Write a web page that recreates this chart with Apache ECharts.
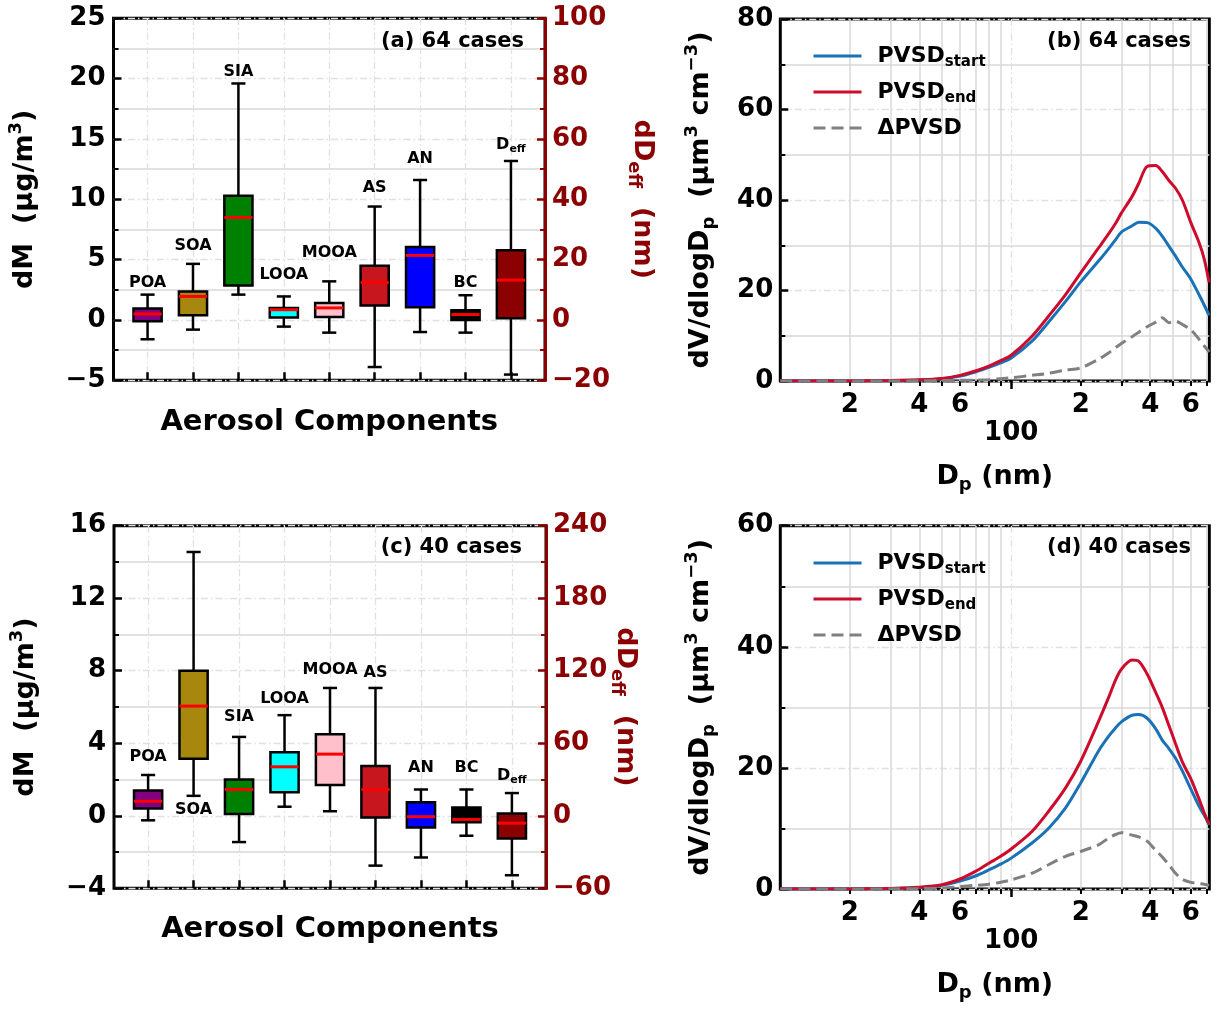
<!DOCTYPE html>
<html>
<head>
<meta charset="utf-8">
<script src="https://cdn.jsdelivr.net/npm/echarts@6.0.0/dist/echarts.min.js"></script>
<style>
  html, body { margin: 0; padding: 0; background: #fff; }
  #chart { width: 1220px; height: 1010px; }
</style>
</head>
<body>
<div id="chart"></div>
<script>
// ---- data ----
var components = ['POA', 'SOA', 'SIA', 'LOOA', 'MOOA', 'AS', 'AN', 'BC'];
var boxColors = ['#800080', '#A8870F', '#008000', '#00FFFF', '#FFC0CB', '#C8161E', '#0000FF', '#000000'];

// [min, q1, median, q3, max]  dM (ug/m3)
var statsA = [
  [-1.6, -0.1, 0.5, 0.95, 2.1],
  [-0.8, 0.4, 1.95, 2.35, 4.65],
  [2.1, 2.85, 8.5, 10.3, 19.6],
  [-0.55, 0.2, 0.85, 1.0, 1.95],
  [-1.05, 0.25, 1.0, 1.4, 3.2],
  [-3.9, 1.2, 3.1, 4.5, 9.4],
  [-1.0, 1.05, 5.35, 6.05, 11.6],
  [-1.05, 0.0, 0.45, 0.8, 2.05]
];
var deffA = [-18.1, 0.6, 13.2, 23.1, 52.7];      // dDeff (nm)
var labelYA = [3.1, 6.15, 20.6, 3.75, 5.55, 10.95, 13.35, 3.1];
var deffLabelA = 58;

var statsC = [
  [-0.25, 0.4, 0.8, 1.4, 2.25],
  [1.1, 3.15, 6.05, 8.0, 14.55],
  [-1.45, 0.1, 1.45, 2.0, 4.35],
  [0.5, 1.3, 2.7, 3.5, 5.55],
  [0.25, 1.7, 3.4, 4.5, 7.05],
  [-2.75, -0.1, 1.45, 2.75, 7.05],
  [-2.3, -0.65, -0.05, 0.75, 1.45],
  [-1.1, -0.35, -0.2, 0.45, 1.45]
];
var deffC = [-49.2, -18.8, -6.1, 1.9, 18.8];
var labelYC = [3.25, 0.3, 5.45, 6.45, 8.05, 7.9, 2.65, 2.65];
var deffLabelC = 33;

// particle diameter (nm)
var dp = [10, 15, 20, 30, 40, 50, 60, 70, 80, 90, 100, 123, 145, 172, 200, 239, 264, 283, 300,
          334, 357, 388, 422, 451, 482, 515, 551, 600, 652, 685, 720];
var startB = [0, 0, 0.02, 0.08, 0.2, 0.45, 1.1, 2.0, 3.0, 4.0, 5.1, 8.8, 13.0, 17.6, 21.9, 26.5, 29.2, 31.2, 32.9,
              34.3, 35.1, 35.0, 33.8, 32.0, 29.8, 27.6, 25.2, 22.5, 19.0, 16.8, 14.5];
var endB = [0, 0, 0.02, 0.1, 0.25, 0.55, 1.25, 2.2, 3.3, 4.5, 5.7, 9.9, 14.3, 19.1, 23.9, 29.4, 32.5, 34.8, 37.1,
            40.8, 43.7, 47.4, 47.6, 46.3, 44.3, 42.6, 40.0, 35.0, 30.5, 27.0, 21.8];
var deltaB = [0, 0, 0, 0, 0.05, 0.1, 0.15, 0.2, 0.3, 0.5, 0.7, 1.25, 1.7, 2.4, 2.9, 4.8, 6.2, 7.35, 8.3,
              9.8, 10.8, 12.0, 13.0, 14.0, 12.9, 13.2, 12.5, 11.3, 9.2, 7.8, 6.4];
var startD = [0, 0, 0.02, 0.08, 0.25, 0.6, 1.3, 2.15, 3.15, 4.1, 5.1, 7.6, 10.0, 13.4, 17.5, 22.8, 25.2, 26.6, 27.6,
              28.7, 28.8, 28.2, 26.5, 24.6, 23.2, 21.6, 19.5, 16.5, 13.6, 12.2, 10.6];
var endD = [0, 0, 0.02, 0.1, 0.3, 0.7, 1.65, 2.9, 4.25, 5.4, 6.6, 9.5, 12.8, 16.7, 21.1, 27.7, 31.6, 34.5, 36.3,
            37.8, 37.6, 35.5, 32.5, 30.0, 27.0, 24.0, 21.0, 18.2, 14.8, 12.6, 10.7];
var deltaD = [0, 0, 0, 0.02, 0.05, 0.15, 0.4, 0.6, 0.8, 1.1, 1.5, 2.6, 4.0, 5.4, 6.2, 7.3, 8.4, 9.0, 9.3,
              8.9, 8.6, 7.9, 6.4, 5.3, 4.0, 2.6, 1.6, 1.1, 0.9, 0.8, 0.6];

var minorDp = [20, 30, 40, 50, 60, 70, 80, 90, 200, 300, 400, 500, 600, 700];
var labelDp = [20, 40, 60, 200, 400, 600];
var majorDp = [100];

// ---- styles ----
var FONT = 'DejaVu Sans';
var DARKRED = '#8B0000';
var BLUE = '#1A72B6';
var RED = '#CC0B2D';
var GRAY = '#808080';
var BOX_W = 0.62;
var majorGrid = { color: '#e0e0e0', width: 1.3, type: [7, 3, 1.5, 3] };
var minorGrid = { color: '#d8d8d8', width: 1.5, type: 'solid' };
var LOGMAX = 2.858;

function lg(v) { return Math.log10(v); }
function minus(v) { return v < 0 ? '\u2212' + Math.abs(v) : String(v); }

function rich(size, color) {
  var s = Math.round(size * 0.68);
  return {
    a: { fontFamily: FONT, fontSize: size, fontWeight: 'bold', color: color, lineHeight: size + 8 },
    sub: { fontFamily: FONT, fontSize: s, fontWeight: 'bold', color: color, verticalAlign: 'bottom', lineHeight: s + 2 },
    sup: { fontFamily: FONT, fontSize: s, fontWeight: 'bold', color: color, verticalAlign: 'top', lineHeight: s - 2 }
  };
}
function tickFont(color) {
  return { color: color, fontFamily: FONT, fontSize: 26, fontWeight: 'bold' };
}

var option = {
  animation: false,
  backgroundColor: '#fff',
  grid: [
    { left: 113.5, top: 18.3, width: 431.5, height: 362 },
    { left: 780.3, top: 19, width: 429, height: 362 },
    { left: 114, top: 525.7, width: 432, height: 362.6 },
    { left: 780.3, top: 525.7, width: 429, height: 363.3 }
  ].map(function (g) {
    return Object.assign({ show: true, borderColor: '#000', borderWidth: 3, backgroundColor: 'transparent',
                           containLabel: false, outerBoundsMode: 'none' }, g);
  }),
  xAxis: [],
  yAxis: [],
  series: [],
  legend: [],
  graphic: []
};

function boxRender(names, colors, labelRich) {
  return function (params, api) {
    var i = api.value(0);
    function p(v) { return api.coord([i, v]); }
    var lo = p(api.value(1)), q1 = p(api.value(2)), md = p(api.value(3)),
        q3 = p(api.value(4)), hi = p(api.value(5)), lab = p(api.value(6));
    var cx = lo[0];
    var hw = api.size([BOX_W, 0])[0] / 2, cap = hw / 2;
    var k = params.dataIndex;
    var blk = { stroke: '#000', lineWidth: 2.5 };
    return {
      type: 'group',
      children: [
        { type: 'line', shape: { x1: cx, y1: q3[1], x2: cx, y2: hi[1] }, style: blk },
        { type: 'line', shape: { x1: cx, y1: q1[1], x2: cx, y2: lo[1] }, style: blk },
        { type: 'line', shape: { x1: cx - cap, y1: hi[1], x2: cx + cap, y2: hi[1] }, style: blk },
        { type: 'line', shape: { x1: cx - cap, y1: lo[1], x2: cx + cap, y2: lo[1] }, style: blk },
        { type: 'rect', shape: { x: cx - hw, y: q3[1], width: 2 * hw, height: q1[1] - q3[1] },
          style: { fill: colors[k], stroke: '#000', lineWidth: 2.5 } },
        { type: 'line', shape: { x1: cx - hw, y1: md[1], x2: cx + hw, y2: md[1] },
          style: { stroke: '#FF0000', lineWidth: 3 } },
        { type: 'text', x: cx, y: lab[1],
          style: { text: names[k], fontFamily: FONT, fontSize: 16, fontWeight: 'bold', fill: '#000',
                   lineHeight: 20, align: 'center', verticalAlign: 'middle', rich: labelRich } }
      ]
    };
  };
}

function addBoxPanel(gi, p) {
  var xi = option.xAxis.length, yi = option.yAxis.length;
  option.xAxis.push({
    gridIndex: gi, type: 'value', min: -0.75, max: 8.75, position: 'bottom',
    axisLine: { show: false, onZero: false },
    axisTick: { show: true, inside: true, length: 8, customValues: [0, 1, 2, 3, 4, 5, 6, 7, 8],
                lineStyle: { color: '#000', width: 2.5 } },
    axisLabel: { show: false },
    splitLine: { show: true, lineStyle: majorGrid },
    name: 'Aerosol Components', nameLocation: 'middle', nameGap: p.xGap,
    nameTextStyle: { fontFamily: FONT, fontSize: 29, fontWeight: 'bold', color: '#000', lineHeight: 35 }
  });
  option.yAxis.push({
    gridIndex: gi, type: 'value', position: 'left', min: p.yMin, max: p.yMax, interval: p.yInt,
    axisLine: { show: false, onZero: false },
    axisTick: { show: true, inside: true, length: 8, lineStyle: { color: '#000', width: 2.5 } },
    minorTick: { show: true, splitNumber: 2, length: 5, lineStyle: { color: '#000', width: 2 } },
    axisLabel: Object.assign({ margin: 8, formatter: minus }, tickFont('#000')),
    splitLine: { show: true, lineStyle: majorGrid },
    minorSplitLine: { show: true, lineStyle: minorGrid },
    name: '{a|dM  (\u03bcg/m}{sup|3}{a|)}', nameLocation: 'middle', nameGap: p.yGap, nameMoveOverlap: false,
    nameTextStyle: { rich: rich(27, '#000') }
  });
  option.yAxis.push({
    gridIndex: gi, type: 'value', position: 'right', min: p.rMin, max: p.rMax, interval: p.rInt,
    axisLine: { show: true, onZero: false, lineStyle: { color: DARKRED, width: 3 } },
    axisTick: { show: true, inside: true, length: 8, lineStyle: { color: DARKRED, width: 2.5 } },
    minorTick: { show: true, splitNumber: 2, length: 5, lineStyle: { color: DARKRED, width: 2 } },
    axisLabel: Object.assign({ margin: 7, formatter: minus }, tickFont(DARKRED)),
    splitLine: { show: false },
    name: '{a|dD}{sub|eff}{a|  (nm)}', nameLocation: 'middle', nameRotate: -90, nameGap: p.rGap,
    nameMoveOverlap: false,
    nameTextStyle: { rich: rich(27, DARKRED) }
  });
  option.series.push({
    type: 'custom', xAxisIndex: xi, yAxisIndex: yi, z: 3, clip: false,
    renderItem: boxRender(components, boxColors, null),
    encode: { x: 0, y: [1, 2, 3, 4, 5] },
    data: p.stats.map(function (s, i) { return [i].concat(s, [p.labY[i]]); })
  });
  option.series.push({
    type: 'custom', xAxisIndex: xi, yAxisIndex: yi + 1, z: 3, clip: false,
    renderItem: boxRender(['D{s|eff}'], [DARKRED],
      { s: { fontFamily: FONT, fontSize: 11, fontWeight: 'bold', fill: '#000', verticalAlign: 'bottom', lineHeight: 11 } }),
    encode: { x: 0, y: [1, 2, 3, 4, 5] },
    data: [[8].concat(p.deff, [p.deffLab])]
  });
}

var legendNames = ['PVSDstart', 'PVSDend', '\u0394PVSD'];
var legendText = {
  'PVSDstart': '{a|PVSD}{s|start}',
  'PVSDend': '{a|PVSD}{s|end}',
  '\u0394PVSD': '{a|\u0394PVSD}'
};

function pairs(vals) { return dp.map(function (d, i) { return [lg(d), vals[i]]; }); }

function addPsdPanel(gi, p) {
  var xi = option.xAxis.length, yi = option.yAxis.length;
  option.xAxis.push({
    gridIndex: gi, type: 'value', min: 1, max: LOGMAX, position: 'bottom',
    axisLine: { show: false, onZero: false },
    axisTick: { show: true, inside: false, length: 5, customValues: minorDp.map(lg),
                lineStyle: { color: '#000', width: 2 } },
    axisLabel: Object.assign({
      margin: 11, customValues: labelDp.map(lg),
      formatter: function (v) { return String(Math.round(Math.pow(10, v - Math.floor(v + 1e-9)))); }
    }, tickFont('#000')),
    splitLine: { show: true, lineStyle: minorGrid },
    name: '{a|D}{sub|p}{a| (nm)}', nameLocation: 'middle', nameGap: p.xGap, nameMoveOverlap: false,
    nameTextStyle: { rich: rich(27, '#000') }
  });
  option.xAxis.push({
    gridIndex: gi, type: 'value', min: 1, max: LOGMAX, position: 'bottom', offset: 0,
    axisLine: { show: false, onZero: false },
    axisTick: { show: true, inside: false, length: 8, customValues: majorDp.map(lg),
                lineStyle: { color: '#000', width: 2.5 } },
    axisLabel: Object.assign({
      margin: 39, customValues: majorDp.map(lg),
      formatter: function (v) { return String(Math.round(Math.pow(10, v))); }
    }, tickFont('#000')),
    splitLine: { show: true, lineStyle: majorGrid }
  });
  option.yAxis.push({
    gridIndex: gi, type: 'value', position: 'left', min: 0, max: p.yMax, interval: 20,
    axisLine: { show: false, onZero: false },
    axisTick: { show: true, inside: true, length: 8, lineStyle: { color: '#000', width: 2.5 } },
    minorTick: { show: true, splitNumber: 2, length: 5, lineStyle: { color: '#000', width: 2 } },
    axisLabel: Object.assign({ margin: 7 }, tickFont('#000')),
    splitLine: { show: true, lineStyle: majorGrid },
    minorSplitLine: { show: true, lineStyle: minorGrid },
    name: '{a|dV/dlogD}{sub|p}{a|  (\u03bcm}{sup|3}{a| cm}{sup|\u22123}{a|)}',
    nameLocation: 'middle', nameGap: p.yGap, nameMoveOverlap: false,
    nameTextStyle: { rich: rich(27, '#000') }
  });
  var sets = [[legendNames[0], p.start, BLUE, 'solid'],
              [legendNames[1], p.end, RED, 'solid'],
              [legendNames[2], p.delta, GRAY, [12, 6]]];
  sets.forEach(function (s) {
    option.series.push({
      type: 'line', name: s[0], xAxisIndex: xi, yAxisIndex: yi, data: pairs(s[1]),
      symbol: 'none', showSymbol: false, smooth: 0.3, z: 4,
      lineStyle: { color: s[2], width: 3, type: s[3] }, itemStyle: { color: s[2] }
    });
  });
  option.legend.push({
    show: true, orient: 'vertical', left: 807, top: p.legendTop, itemWidth: 48, itemHeight: 14, itemGap: 11,
    selectedMode: false, data: legendNames,
    itemStyle: { opacity: 0 },
    lineStyle: { width: 3 },
    formatter: function (n) { return legendText[n]; },
    textStyle: {
      padding: [0, 0, 0, 11],
      rich: {
        a: { fontFamily: FONT, fontSize: 22, fontWeight: 'bold', color: '#000', lineHeight: 28 },
        s: { fontFamily: FONT, fontSize: 15, fontWeight: 'bold', color: '#000', verticalAlign: 'bottom', lineHeight: 15 }
      }
    }
  });
}

addBoxPanel(0, { stats: statsA, deff: deffA, labY: labelYA, deffLab: deffLabelA,
                 yMin: -5, yMax: 25, yInt: 5, rMin: -20, rMax: 100, rInt: 20,
                 xGap: 25, yGap: 71, rGap: 80 });
addPsdPanel(1, { start: startB, end: endB, delta: deltaB, yMax: 80, xGap: 78, yGap: 62, legendTop: 40 });
addBoxPanel(2, { stats: statsC, deff: deffC, labY: labelYC, deffLab: deffLabelC,
                 yMin: -4, yMax: 16, yInt: 4, rMin: -60, rMax: 240, rInt: 60,
                 xGap: 24, yGap: 71, rGap: 62 });
addPsdPanel(3, { start: startD, end: endD, delta: deltaD, yMax: 60, xGap: 78, yGap: 62, legendTop: 547 });

function title(x, y, t) {
  return { type: 'text', x: x, y: y, z: 10,
           style: { text: t, fontFamily: FONT, fontSize: 21, fontWeight: 'bold', fill: '#000',
                    align: 'right', verticalAlign: 'middle' } };
}
option.graphic = [
  title(524, 42, '(a) 64 cases'),
  title(1191, 42, '(b) 64 cases'),
  title(522, 548, '(c) 40 cases'),
  title(1191, 548, '(d) 40 cases')
];

var myChart = echarts.init(document.getElementById('chart'), null, { renderer: 'canvas' });
myChart.setOption(option);
</script>
</body>
</html>
